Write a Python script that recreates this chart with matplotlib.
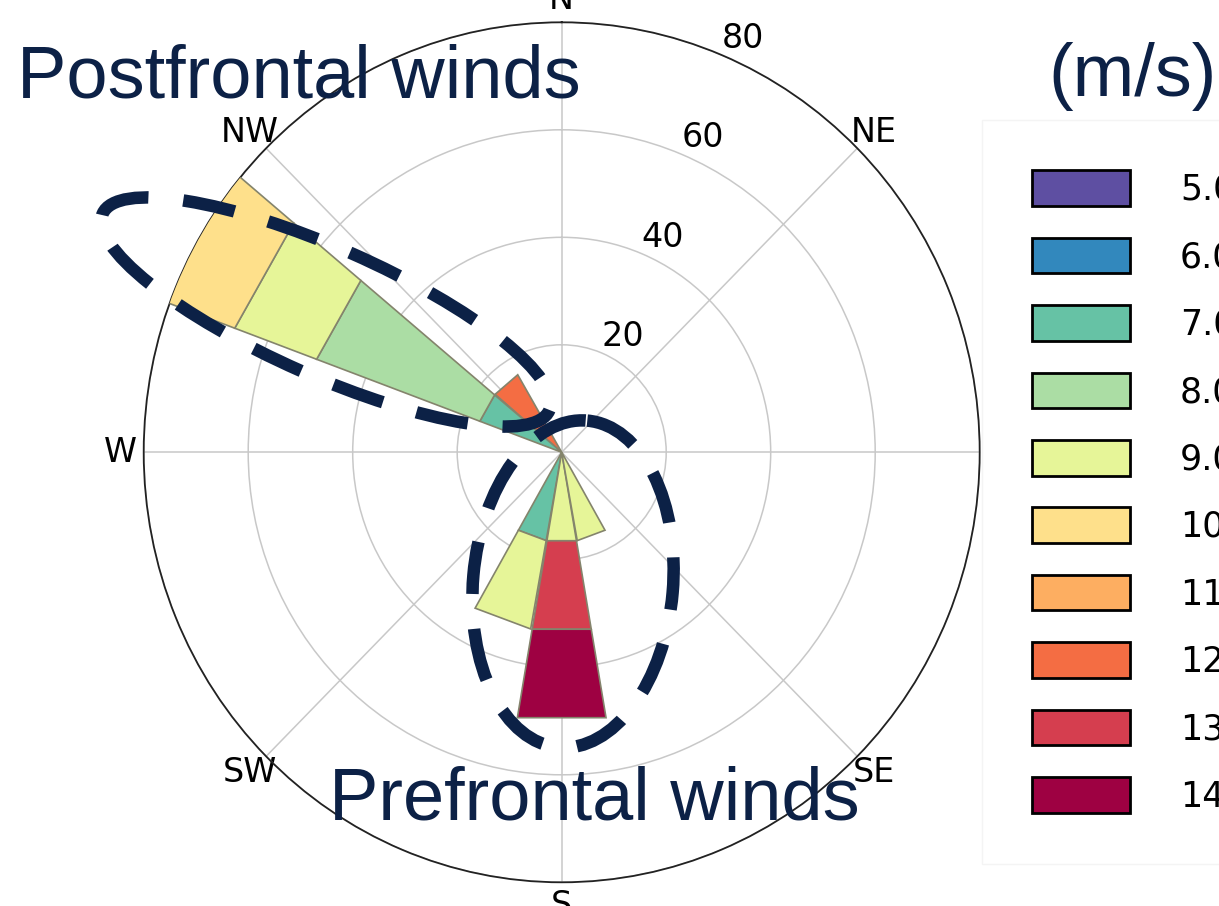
import numpy as np
import matplotlib.pyplot as plt
from matplotlib.patches import Ellipse, Patch

# wind directions (deg, clockwise from N) and speed bins
directions = [160, 180, 200, 300, 320]
speed_labels = ['5.0', '6.0', '7.0', '8.0', '9.0', '10.0', '11.0', '12.0', '13.0', '14.0']

# frequency per speed bin, one column per direction
freq_5 = [0, 0, 0, 0, 0]
freq_6 = [0, 0, 0, 0, 0]
freq_7 = [0, 0, 16.7, 16.7, 0]
freq_8 = [0, 0, 0, 33.3, 0]
freq_9 = [16.7, 16.7, 16.7, 16.7, 0]
freq_10 = [0, 0, 0, 16.7, 0]
freq_11 = [0, 0, 0, 0, 0]
freq_12 = [0, 0, 0, 0, 16.7]
freq_13 = [0, 16.7, 0, 0, 0]
freq_14 = [0, 16.7, 0, 0, 0]
freqs = [freq_5, freq_6, freq_7, freq_8, freq_9, freq_10, freq_11, freq_12, freq_13, freq_14]

r_ticks = [20, 40, 60, 80]
compass = ['N', 'NE', 'E', 'SE', 'S', 'SW', 'W', 'NW']

colors = ['#5e4fa2', '#3288bd', '#66c2a5', '#abdda4', '#e6f598',
          '#fee08b', '#fdae61', '#f46d43', '#d53e4f', '#9e0142']
navy = '#0c2146'

W, H = 1219, 906
fig = plt.figure(figsize=(W / 100, H / 100), dpi=100)

# rose (slightly taller than wide)
cx, cy, rx, ry = 561.7, 452.3, 418, 430
ax = fig.add_axes([(cx - rx) / W, (H - cy - ry) / H, 2 * rx / W, 2 * ry / H],
                  projection='polar')
ax.set_aspect('auto')
ax.set_theta_zero_location('N')
ax.set_theta_direction(-1)

width = np.deg2rad(19.5)
for j in reversed(range(len(directions))):
    th = np.deg2rad(directions[j])
    base = 0
    for k, f in enumerate(freqs):
        v = f[j]
        if v == 0:
            continue
        t = [th - width / 2, th + width / 2, th + width / 2, th - width / 2]
        r = [base, base, base + v, base + v]
        ax.fill(t, r, facecolor=colors[k], edgecolor='#84846c', linewidth=1.2, zorder=3)
        base += v

ax.set_ylim(0, 80)
ax.set_thetagrids(range(0, 360, 45), compass, fontsize=24)
ax.set_rgrids(r_ticks, [str(v) for v in r_ticks], angle=22.5, fontsize=24)
ax.tick_params(axis='x', pad=6)
ax.grid(color='#c8c8c8', linewidth=1.1)
ax.spines['polar'].set_linewidth(1.3)
ax.spines['polar'].set_color('#222222')

# annotations in pixel coordinates
ov = fig.add_axes([0, 0, 1, 1], zorder=10)
ov.set_xlim(0, W)
ov.set_ylim(H, 0)
ov.axis('off')

dash = (0, (4.2, 2.8))
ov.add_patch(Ellipse((326, 312), 488, 128, angle=23.8, fill=False, edgecolor=navy,
                     linewidth=9, linestyle=dash, capstyle='butt'))
ov.add_patch(Ellipse((573, 584), 200, 328, angle=5, fill=False, edgecolor=navy,
                     linewidth=9, linestyle=dash, capstyle='butt'))

tfont = dict(family='Liberation Sans', fontsize=53.3, color=navy, va='baseline', ha='left')
ov.text(17, 98, 'Postfrontal winds', **tfont)
ov.text(329, 820, 'Prefrontal winds', **tfont)
ov.text(1048, 96, '(m/s)', **tfont)

handles = [Patch(facecolor=c, edgecolor='black', linewidth=2) for c in colors]
fig.legend(handles, speed_labels, loc='upper left',
           bbox_to_anchor=(982 / W, 1 - 120 / H), fontsize=25, borderaxespad=0,
           handlelength=2.8, handleheight=1.2, labelspacing=0.89,
           handletextpad=1.45, borderpad=1.45, frameon=True,
           facecolor='white', edgecolor='#f4f4f4', fancybox=False, framealpha=1)

fig.savefig('out.png', dpi=100)
